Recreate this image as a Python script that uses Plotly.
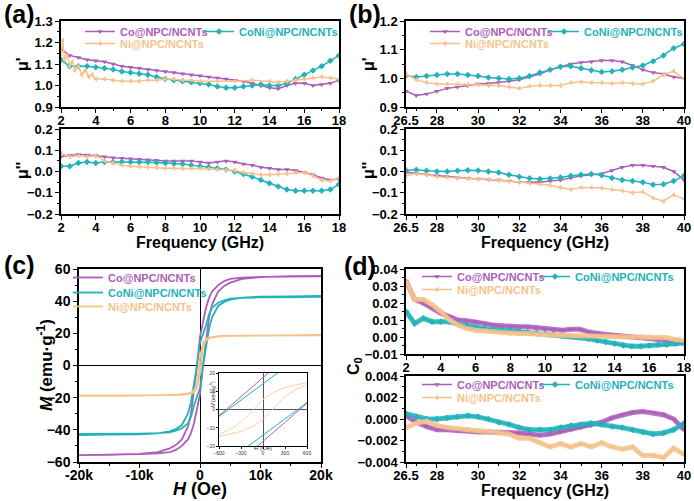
import plotly.graph_objects as go

W, H = 694, 501
FONT = "Liberation Sans"
C_CO = "#AD5EBA"
C_CONI = "#22B2BA"
C_NI = "#F6C28B"

NAME_CO = "Co@NPC/NCNTs"
NAME_CONI = "CoNi@NPC/NCNTs"
NAME_NI = "Ni@NPC/NCNTs"

# ---------------- data ----------------
freq_a = [2 + 0.5 * i for i in range(33)]
mu1_a_co = [1.17, 1.14, 1.13, 1.12, 1.115, 1.11, 1.10, 1.09, 1.085, 1.08, 1.075, 1.07, 1.065, 1.06, 1.055, 1.05,
            1.045, 1.04, 1.035, 1.03, 1.025, 1.02, 1.01, 1.0, 0.99, 0.985, 1.0, 1.01, 1.01, 1.0, 1.005, 1.01, 1.025]
mu1_a_coni = [1.12, 1.09, 1.09, 1.09, 1.085, 1.08, 1.075, 1.065, 1.06, 1.055, 1.05, 1.04, 1.03, 1.025, 1.02, 1.015,
              1.01, 1.005, 0.995, 0.99, 0.99, 0.995, 1.0, 1.005, 1.0, 1.0, 1.01, 1.03, 1.05, 1.07, 1.09, 1.115, 1.14]
freq_a_ni = [2, 2.1, 2.2, 2.35, 2.5, 2.65, 2.8, 3.0, 3.2, 3.4, 3.6, 3.8, 4.0, 4.5, 5, 5.5, 6, 6.5, 7, 7.5, 8, 8.5,
             9, 9.5, 10, 11, 12, 13, 14, 14.5, 15, 15.5, 16, 16.5, 17, 17.5, 18]
mu1_a_ni = [1.15, 1.21, 1.12, 1.14, 1.09, 1.11, 1.07, 1.09, 1.05, 1.07, 1.04, 1.05, 1.03, 1.03, 1.025, 1.02, 1.02,
            1.02, 1.025, 1.025, 1.03, 1.03, 1.025, 1.025, 1.02, 1.02, 1.02, 1.025, 1.02, 1.015, 1.02, 1.025, 1.03,
            1.035, 1.04, 1.035, 1.03]
mu2_a_co = [0.07, 0.075, 0.08, 0.078, 0.075, 0.07, 0.065, 0.062, 0.06, 0.058, 0.055, 0.053, 0.05, 0.05, 0.05, 0.05,
            0.045, 0.04, 0.045, 0.05, 0.045, 0.035, 0.03, 0.02, 0.015, 0.01, 0.01, 0.005, -0.005, -0.015, -0.03,
            -0.04, -0.035]
mu2_a_coni = [0.025, 0.025, 0.04, 0.045, 0.04, 0.045, 0.045, 0.045, 0.045, 0.045, 0.045, 0.042, 0.04, 0.038, 0.035,
              0.03, 0.025, 0.02, 0.015, 0.01, 0.0, -0.012, -0.025, -0.04, -0.055, -0.07, -0.085, -0.09, -0.09,
              -0.09, -0.09, -0.085, -0.06]
mu2_a_ni = [0.085, 0.07, 0.075, 0.07, 0.075, 0.05, 0.04, 0.03, 0.025, 0.022, 0.02, 0.018, 0.015, 0.015, 0.015,
            0.015, 0.015, 0.012, 0.01, 0.008, 0.005, -0.005, -0.01, -0.015, -0.015, -0.012, -0.01, -0.005, -0.005,
            -0.02, -0.04, -0.045, -0.03]

freq_b = [26.5 + 0.5 * i for i in range(28)]
mu1_b_co = [0.955, 0.94, 0.945, 0.955, 0.965, 0.97, 0.975, 0.98, 0.982, 0.985, 0.99, 0.995, 1.005, 1.015, 1.03,
            1.04, 1.05, 1.055, 1.058, 1.062, 1.062, 1.058, 1.045, 1.03, 1.02, 1.015, 1.005, 1.0]
mu1_b_coni = [1.01, 1.005, 1.008, 1.012, 1.015, 1.015, 1.012, 1.008, 1.003, 1.0, 0.998, 1.0, 1.008, 1.02, 1.03,
              1.04, 1.042, 1.035, 1.028, 1.022, 1.025, 1.03, 1.038, 1.045, 1.06, 1.08, 1.105, 1.12]
mu1_b_ni = [1.015, 0.995, 0.985, 0.98, 0.98, 0.98, 0.978, 0.978, 0.975, 0.975, 0.97, 0.965, 0.972, 0.975, 0.975,
            0.975, 0.985, 0.988, 0.985, 0.985, 0.982, 0.985, 0.982, 0.98, 0.99, 1.012, 1.025, 0.998]
mu2_b_co = [-0.005, -0.008, -0.015, -0.02, -0.025, -0.03, -0.032, -0.035, -0.038, -0.04, -0.045, -0.05, -0.05,
            -0.05, -0.045, -0.04, -0.03, -0.02, -0.015, -0.01, 0.005, 0.02, 0.03, 0.03, 0.025, 0.02, 0.0, -0.04]
mu2_b_coni = [0.005, 0.008, 0.003, 0.0, 0.0, 0.003, 0.006, 0.005, 0.0, -0.005, -0.015, -0.025, -0.032, -0.035,
              -0.033, -0.028, -0.02, -0.015, -0.012, -0.018, -0.03, -0.04, -0.045, -0.05, -0.062, -0.06, -0.045,
              -0.02]
mu2_b_ni = [-0.02, -0.01, -0.015, -0.025, -0.028, -0.03, -0.032, -0.035, -0.038, -0.04, -0.045, -0.05, -0.055,
            -0.06, -0.065, -0.075, -0.085, -0.075, -0.075, -0.078, -0.085, -0.09, -0.1, -0.095, -0.125, -0.14,
            -0.11, -0.13]

field_desc = [20000, 15000, 10000, 7000, 5000, 4000, 3000, 2000, 1500, 1000, 500, 0, -500, -1000, -1500, -2000,
              -3000, -4000, -5000, -7000, -10000, -15000, -20000]
m_co_desc = [55.5, 55.4, 55.1, 54.6, 53.8, 52.5, 50, 46, 42, 36, 28, 18, 0, -17, -30, -38, -46, -49.5, -51.5,
             -53.8, -55, -55.5, -55.7]
m_coni_desc = [42.5, 42.5, 42.3, 42, 41.5, 40.5, 39, 36, 32, 25, 19, 14, 0, -13, -23, -30, -37, -39.5, -41, -42.2,
               -42.8, -43, -43.2]
m_ni_desc = [18.8, 18.8, 18.7, 18.6, 18.5, 18.4, 18.2, 17.8, 17.4, 16.8, 14, 5.5, -12, -15.5, -16.8, -17.4, -18,
             -18.3, -18.4, -18.5, -18.6, -18.6, -18.7]

inset_field_line = [-600, -300, 0, 300, 600]
inset_co_desc = [-3.5, 7, 17.6, 28, 38]
inset_coni_desc = [-3.8, 5, 14, 23, 32]
inset_field_ni = [600, 450, 300, 150, 0, -150, -300, -450, -600]
inset_ni_desc = [14.8, 13.5, 12, 9.5, 5.5, -1, -7, -11, -13.5]

freq_d = [2 + 0.5 * i for i in range(33)]
c0_d_co = [0.033, 0.022, 0.02, 0.017, 0.014, 0.012, 0.010, 0.0095, 0.009, 0.008, 0.007, 0.0065, 0.006, 0.006,
           0.006, 0.0055, 0.005, 0.0045, 0.004, 0.0045, 0.0045, 0.003, 0.002, 0.0015, 0.001, 0.0005, 0.0, 0.0,
           -0.0005, -0.001, -0.002, -0.0025, -0.003]
c0_d_coni = [0.015, 0.008, 0.011, 0.009, 0.009, 0.009, 0.0075, 0.0065, 0.0055, 0.005, 0.0045, 0.004, 0.004, 0.0035,
             0.003, 0.0025, 0.002, 0.0015, 0.001, 0.0005, 0.0, -0.001, -0.002, -0.003, -0.004, -0.005, -0.0055,
             -0.0055, -0.005, -0.0045, -0.0045, -0.004, -0.0035]
c0_d_ni = [0.033, 0.022, 0.022, 0.019, 0.015, 0.01, 0.007, 0.005, 0.004, 0.0035, 0.003, 0.0025, 0.002, 0.002, 0.002,
           0.0015, 0.0012, 0.001, 0.001, 0.0008, 0.0005, 0.0004, 0.0003, 0.0002, 0.0, 0.0, 0.0, 0.0, 0.0, 0.0,
           -0.0005, -0.0015, -0.002]
freq_e = [26.5 + 0.5 * i for i in range(28)]
c0_e_co = [0.0003, -0.0003, -0.0007, -0.001, -0.001, -0.0011, -0.0011, -0.0012, -0.0012, -0.0012, -0.0012, -0.0013,
           -0.0014, -0.0015, -0.0014, -0.0012, -0.001, -0.0008, -0.0006, -0.0003, 0.0001, 0.0004, 0.0006, 0.0007,
           0.0006, 0.0004, 0.0, -0.001]
c0_e_coni = [0.0005, 0.0002, 0.0, 0.0, 0.0001, 0.0002, 0.0003, 0.0002, 0.0, -0.0003, -0.0005, -0.0008, -0.001,
             -0.001, -0.001, -0.0008, -0.0006, -0.0005, -0.0004, -0.0005, -0.0007, -0.0008, -0.001, -0.0012,
             -0.0014, -0.0013, -0.001, -0.0004]
c0_e_ni = [-0.0008, -0.0004, -0.0002, -0.0006, -0.0008, -0.0009, -0.001, -0.0011, -0.0011, -0.0012, -0.0014,
           -0.0018, -0.0018, -0.0022, -0.0026, -0.0023, -0.0026, -0.0023, -0.0026, -0.0022, -0.0026, -0.0028,
           -0.0026, -0.0034, -0.0034, -0.0036, -0.0027, -0.0033]

freq_ticks_a = [2, 4, 6, 8, 10, 12, 14, 16, 18]
freq_ticks_b = [26.5, 28, 30, 32, 34, 36, 38, 40]
field_ticks = [-20000, -10000, 0, 10000, 20000]
field_ticktext = ["-20k", "-10k", "0", "10k", "20k"]


# ---------------- helpers ----------------
def xd(a, b):
    return [a / W, b / W]


def yd(top, bot):
    return [1 - bot / H, 1 - top / H]


SYM = {C_CO: "triangle-down", C_CONI: "diamond", C_NI: "triangle-left"}

fig = go.Figure()


def add_series(x, y, color, name, xa, ya, legend=None, lw=1.5, ms=5, band=0):
    if band:
        # broad noisy band drawn underneath
        fig.add_trace(go.Scatter(
            x=x, y=y, mode="lines", xaxis=xa, yaxis=ya, line=dict(color=color, width=band),
            opacity=0.85, showlegend=False, hoverinfo="skip"))
    fig.add_trace(go.Scatter(
        x=x, y=y, mode="lines+markers", xaxis=xa, yaxis=ya,
        line=dict(color=color, width=lw),
        marker=dict(symbol=SYM[color], size=ms, color=color),
        name=name, showlegend=legend is not None,
        legend=legend if legend else "legend"))


# (a)
add_series(freq_a, mu1_a_co, C_CO, NAME_CO, "x", "y", "legend")
add_series(freq_a, mu1_a_coni, C_CONI, NAME_CONI, "x", "y", "legend2")
add_series(freq_a_ni, mu1_a_ni, C_NI, NAME_NI, "x", "y", "legend3")
add_series(freq_a, mu2_a_co, C_CO, NAME_CO, "x2", "y2")
add_series(freq_a, mu2_a_coni, C_CONI, NAME_CONI, "x2", "y2")
add_series(freq_a, mu2_a_ni, C_NI, NAME_NI, "x2", "y2")
# (b)
add_series(freq_b, mu1_b_co, C_CO, NAME_CO, "x3", "y3", "legend4")
add_series(freq_b, mu1_b_coni, C_CONI, NAME_CONI, "x3", "y3", "legend5")
add_series(freq_b, mu1_b_ni, C_NI, NAME_NI, "x3", "y3", "legend6")
add_series(freq_b, mu2_b_co, C_CO, NAME_CO, "x4", "y4")
add_series(freq_b, mu2_b_coni, C_CONI, NAME_CONI, "x4", "y4")
add_series(freq_b, mu2_b_ni, C_NI, NAME_NI, "x4", "y4")
# (d)
add_series(freq_d, c0_d_co, C_CO, NAME_CO, "x7", "y7", "legend10", band=5)
add_series(freq_d, c0_d_coni, C_CONI, NAME_CONI, "x7", "y7", "legend11", band=5)
add_series(freq_d, c0_d_ni, C_NI, NAME_NI, "x7", "y7", "legend12", band=5)
add_series(freq_e, c0_e_co, C_CO, NAME_CO, "x8", "y8", "legend13", band=5)
add_series(freq_e, c0_e_coni, C_CONI, NAME_CONI, "x8", "y8", "legend14", band=5)
add_series(freq_e, c0_e_ni, C_NI, NAME_NI, "x8", "y8", "legend15", band=5)


# (c) hysteresis loops
def loop(hd, md):
    return hd + [-h for h in hd], md + [-m for m in md]


for md, color, name, lg in [(m_co_desc, C_CO, NAME_CO, "legend7"), (m_coni_desc, C_CONI, NAME_CONI, "legend8"),
                            (m_ni_desc, C_NI, NAME_NI, "legend9")]:
    hx, my = loop(field_desc, md)
    fig.add_trace(go.Scatter(x=hx, y=my, mode="lines", xaxis="x5", yaxis="y5",
                             line=dict(color=color, width=1.8), name=name,
                             legend=lg, showlegend=True))

for md, color in [(inset_co_desc, C_CO), (inset_coni_desc, C_CONI)]:
    hx = inset_field_line + [None] + [-h for h in inset_field_line]
    my = md + [None] + [-m for m in md]
    fig.add_trace(go.Scatter(x=hx, y=my, mode="lines", xaxis="x6", yaxis="y6",
                             line=dict(color=color, width=1), showlegend=False))
hx, my = loop(inset_field_ni, inset_ni_desc)
fig.add_trace(go.Scatter(x=hx, y=my, mode="lines", xaxis="x6", yaxis="y6",
                         line=dict(color="#F9D2AE", width=1), showlegend=False))

# ---------------- axes ----------------
TF = dict(family=FONT, size=13, color="black", weight="bold")


def ax(domain, rng, tickvals=None, ticktext=None, tickformat=None, anchor=None, minor_d=None, tf=TF, lw=1.5,
       ticklen=4, **kw):
    d = dict(domain=domain, range=rng, showline=True, linecolor="black", linewidth=lw, mirror=True,
             ticks="outside", ticklen=ticklen, tickwidth=1.2, tickcolor="black", showgrid=False, zeroline=False,
             tickfont=tf, anchor=anchor, fixedrange=True)
    if tickvals is not None:
        d["tickvals"] = tickvals
    if ticktext is not None:
        d["ticktext"] = ticktext
    if tickformat is not None:
        d["tickformat"] = tickformat
    if minor_d is not None:
        d["minor"] = dict(ticks="outside", ticklen=2, tickwidth=1, tickcolor="black", dtick=minor_d,
                          showgrid=False)
    d.update(kw)
    return d


XA = xd(61, 339)
XB = xd(406, 684)
YT = yd(21, 107)
YB = yd(129, 214)
XS = dict(ticklabelstandoff=-3)

lay = dict(
    xaxis=ax(XA, [2, 18], freq_ticks_a, anchor="y", minor_d=1, **XS),
    yaxis=ax(YT, [0.9, 1.3], [0.9, 1.0, 1.1, 1.2, 1.3], tickformat=".1f", anchor="x", minor_d=0.05),
    xaxis2=ax(XA, [2, 18], freq_ticks_a, anchor="y2", minor_d=1, **XS),
    yaxis2=ax(YB, [-0.2, 0.2], [-0.2, -0.1, 0, 0.1, 0.2], tickformat=".1f", anchor="x2", minor_d=0.05),
    xaxis3=ax(XB, [26.5, 40], freq_ticks_b, anchor="y3", minor_d=1, **XS),
    yaxis3=ax(YT, [0.9, 1.2], [0.9, 1.0, 1.1, 1.2], tickformat=".1f", anchor="x3", minor_d=0.05),
    xaxis4=ax(XB, [26.5, 40], freq_ticks_b, anchor="y4", minor_d=1, **XS),
    yaxis4=ax(YB, [-0.2, 0.2], [-0.2, -0.1, 0, 0.1, 0.2], tickformat=".1f", anchor="x4", minor_d=0.05),
    xaxis5=ax(xd(79, 321), [-20000, 20000], field_ticks, field_ticktext, anchor="y5", minor_d=5000,
              tf=dict(family=FONT, size=14, color="black", weight="bold"),
              zeroline=True, zerolinecolor="black", zerolinewidth=1, ticklabelstandoff=-5),
    yaxis5=ax(yd(269, 462), [-60, 60], [-60, -40, -20, 0, 20, 40, 60], anchor="x5", minor_d=10,
              tf=dict(family=FONT, size=14, color="black", weight="bold"),
              zeroline=True, zerolinecolor="black", zerolinewidth=1),
    xaxis6=ax(xd(219, 307), [-600, 600], [-600, -300, 0, 300, 600], anchor="y6", lw=0.8, ticklen=2,
              tf=dict(family=FONT, size=5, color="#333"), zeroline=True, zerolinecolor="#555", zerolinewidth=0.8),
    yaxis6=ax(yd(373, 446), [-20, 20], [-20, -10, 0, 10, 20], anchor="x6", lw=0.8, ticklen=2,
              tf=dict(family=FONT, size=5, color="#333"), zeroline=True, zerolinecolor="#555", zerolinewidth=0.8),
    xaxis7=ax(XB, [2, 18], freq_ticks_a, anchor="y7", minor_d=1, **XS),
    yaxis7=ax(yd(269, 354), [-0.01, 0.04], [-0.01, 0, 0.01, 0.02, 0.03, 0.04], tickformat=".2f", anchor="x7",
              minor_d=0.005),
    xaxis8=ax(XB, [26.5, 40], freq_ticks_b, anchor="y8", minor_d=1, **XS),
    yaxis8=ax(yd(376, 462), [-0.004, 0.004], [-0.004, -0.002, 0, 0.002, 0.004], tickformat=".3f",
              anchor="x8", minor_d=0.001),
)

LEG_DY = 14


def leg(text_x, row_y, color):
    # text_x: left edge of entry text (px); row_y: vertical centre of row (px)
    return dict(x=(text_x - 40) / W, y=1 - (row_y - LEG_DY) / H, xanchor="left", yanchor="top",
                orientation="h", bgcolor="rgba(0,0,0,0)", borderwidth=0,
                font=dict(family=FONT, size=11, weight="bold", color=color), itemwidth=30)


legend_spec = {
    "legend": (120, 31, C_CO), "legend2": (239, 31, C_CONI), "legend3": (120, 43, C_NI),
    "legend4": (465, 31, C_CO), "legend5": (584, 31, C_CONI), "legend6": (465, 43, C_NI),
    "legend7": (108, 277, C_CO), "legend8": (108, 292, C_CONI), "legend9": (108, 306, C_NI),
    "legend10": (457, 276, C_CO), "legend11": (575, 276, C_CONI), "legend12": (457, 289, C_NI),
    "legend13": (457, 384, C_CO), "legend14": (575, 384, C_CONI), "legend15": (457, 397, C_NI),
}
for k, (tx, ry, col) in legend_spec.items():
    lay[k] = leg(tx, ry, col)


def ann(text, xpx, ypx, size, angle=0, color="black", xanchor="center"):
    return dict(text=text, x=xpx / W, y=1 - ypx / H, xref="paper", yref="paper", showarrow=False,
                textangle=angle, xanchor=xanchor, yanchor="middle",
                font=dict(family=FONT, size=size, color=color, weight="bold"))


anns = [
    ann("(a)", 19, 14, 25), ann("(b)", 365, 14, 25), ann("(c)", 19, 265, 25), ann("(d)", 360, 266, 25),
    ann("μ'", 22, 64, 16, -90), ann("μ''", 22, 171, 16, -90),
    ann("μ'", 368, 64, 16, -90), ann("μ''", 368, 171, 16, -90),
    ann("Frequency (GHz)", 200, 243, 16), ann("Frequency (GHz)", 545, 243, 16),
    ann("Frequency (GHz)", 545, 490, 16),
    ann("<i>H</i> (Oe)", 200, 489, 18),
    ann("<i>M</i> (emu·g<sup>-1</sup>)", 45, 365, 17, -90),
    ann("C<sub>0</sub>", 354, 366, 16, -90),
]
inset_anns = [
    dict(text="<i>H</i> (Oe)", x=263 / W, y=1 - 453 / H, xref="paper", yref="paper", showarrow=False,
         font=dict(family=FONT, size=6, color="#333")),
    dict(text="<i>M</i> (emu·g<sup>-1</sup>)", x=207 / W, y=1 - 410 / H, xref="paper", yref="paper",
         showarrow=False, textangle=-90, font=dict(family=FONT, size=5, color="#333")),
]

fig.update_layout(
    width=W, height=H, margin=dict(l=0, r=0, t=0, b=0, autoexpand=False),
    paper_bgcolor="white", plot_bgcolor="white",
    font=dict(family=FONT, color="black"),
    annotations=anns + inset_anns,
    **lay,
)

fig.write_html("out.html", config={"displayModeBar": False},
               post_script="document.body.style.margin='0';document.body.style.overflow='hidden';")
